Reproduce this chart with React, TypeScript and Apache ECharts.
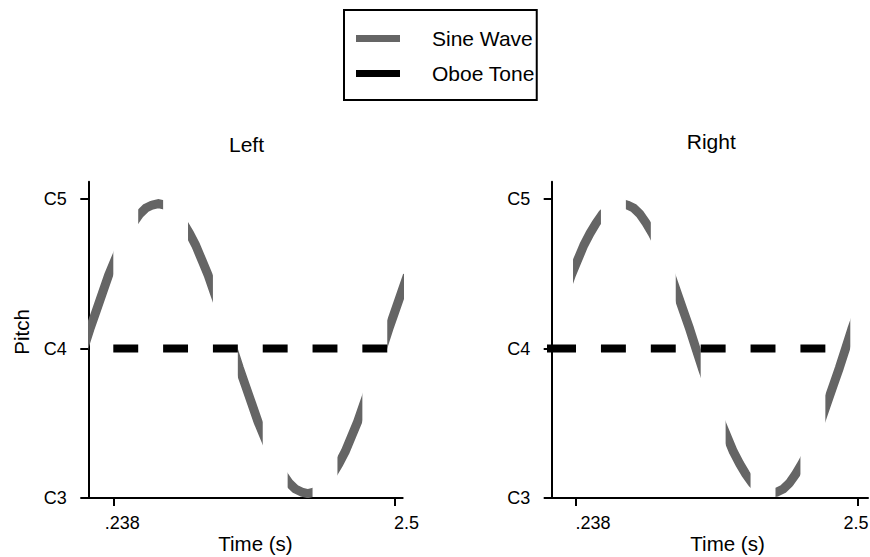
import React, { useEffect, useRef } from 'react';
import * as echarts from 'echarts';

const FONT = '"Liberation Sans", Arial, Helvetica, sans-serif';

// Sine wave (time in s, pitch with C3=3, C4=4, C5=5)
const waveTimes = [
  0, 0.05, 0.1, 0.15, 0.2, 0.25, 0.3, 0.35, 0.4, 0.45, 0.5, 0.55, 0.6,
  0.65, 0.7, 0.75, 0.8, 0.85, 0.9, 0.95, 1.0, 1.05, 1.1, 1.15, 1.2,
  1.25, 1.3, 1.35, 1.4, 1.45, 1.5, 1.55, 1.6, 1.65, 1.7, 1.75, 1.8,
  1.85, 1.9, 1.95, 2.0, 2.05, 2.1, 2.15, 2.2, 2.25, 2.3, 2.35, 2.4,
  2.45, 2.5, 2.55, 2.6,
];
const wavePitch = [
  4.0, 4.13, 4.25, 4.37, 4.49, 4.59, 4.69, 4.77, 4.84, 4.9, 4.94, 4.96, 4.97,
  4.96, 4.94, 4.9, 4.84, 4.77, 4.69, 4.59, 4.49, 4.37, 4.25, 4.13, 4.0,
  3.87, 3.75, 3.63, 3.51, 3.41, 3.31, 3.23, 3.16, 3.1, 3.06, 3.04, 3.03,
  3.04, 3.06, 3.1, 3.16, 3.23, 3.31, 3.41, 3.51, 3.63, 3.75, 3.87, 4.0,
  4.13, 4.25, 4.37, 4.49,
];

// Oboe tone pitch
const oboePitch = 4;

// Time spans (s) in which each tone is heard, per ear
const leftSineSpans = [
  [0.0, 0.238], [0.438, 0.638], [0.838, 1.038], [1.238, 1.438],
  [1.638, 1.838], [2.038, 2.238], [2.438, 2.6],
];
const leftOboeSpans = [
  [0.238, 0.438], [0.638, 0.838], [1.038, 1.238], [1.438, 1.638],
  [1.838, 2.038], [2.238, 2.438],
];
const rightSineSpans = [
  [0.214, 0.438], [0.638, 0.838], [1.038, 1.238], [1.438, 1.638],
  [1.838, 2.038], [2.238, 2.438],
];
const rightOboeSpans = [
  [0.0, 0.238], [0.438, 0.638], [0.838, 1.038], [1.238, 1.438],
  [1.638, 1.838], [2.038, 2.238],
];

const timeTicks = [0.238, 2.5];
const timeTickLabels = ['.238', '2.5'];
const pitchTicks = [3, 4, 5];
const pitchTickLabels = ['C3', 'C4', 'C5'];
const panelTitles = ['Left', 'Right'];
const seriesNames = ['Sine Wave', 'Oboe Tone'];
const xAxisName = 'Time (s)';
const yAxisName = 'Pitch';

const SINE_COLOR = '#656565';
const OBOE_COLOR = '#000000';

function buildOption() {
  const panels = [
    {
      grid: { left: 88.3, top: 181.7, width: 314.4, height: 316.3 },
      xMin: 0.0372, xMax: 2.562,
      sine: leftSineSpans, oboe: leftOboeSpans,
      titleX: 246.5, titleY: 134,
      nameShift: 10, labelShift: [9, 11.5], showYName: true,
    },
    {
      grid: { left: 551.7, top: 181.7, width: 316.3, height: 316.3 },
      xMin: 0.043, xMax: 2.58,
      sine: rightSineSpans, oboe: rightOboeSpans,
      titleX: 711.3, titleY: 131,
      nameShift: 17.7, labelShift: [17, -2], showYName: false,
    },
  ];

  const pad = (s: number) => (s >= 0 ? [0, 0, 0, 2 * s] : [0, -2 * s, 0, 0]);

  const grids: any[] = [];
  const xAxes: any[] = [];
  const yAxes: any[] = [];
  const titles: any[] = [];
  const series: any[] = [];

  panels.forEach((p, pi) => {
    grids.push({ ...p.grid, containLabel: false, outerBoundsMode: 'none' });
    titles.push({
      text: panelTitles[pi],
      left: p.titleX,
      top: p.titleY,
      textAlign: 'center',
      padding: 0,
      textStyle: { fontFamily: FONT, fontSize: 21, fontWeight: 'normal', color: '#000' },
    });
    const rich: any = {};
    timeTicks.forEach((_, i) => {
      rich['t' + i] = { fontFamily: FONT, fontSize: 18, color: '#000', padding: pad(p.labelShift[i]) };
    });
    xAxes.push({
      type: 'value',
      gridIndex: pi,
      min: p.xMin,
      max: p.xMax,
      name: xAxisName,
      nameLocation: 'middle',
      nameGap: 35,
      nameMoveOverlap: false,
      nameTextStyle: {
        fontFamily: FONT, fontSize: 20.5, color: '#000', lineHeight: 20,
        padding: [0, 0, 0, 2 * p.nameShift],
      },
      axisLine: { show: true, onZero: false, lineStyle: { color: '#000', width: 2 } },
      axisTick: {
        show: true, inside: false, length: 8, customValues: timeTicks,
        lineStyle: { color: '#000', width: 2 },
      },
      axisLabel: {
        show: true, margin: 16, customValues: timeTicks,
        fontFamily: FONT, fontSize: 18, color: '#000',
        formatter: (v: number) => {
          const i = timeTicks.findIndex((t) => Math.abs(t - v) < 1e-9);
          return i < 0 ? '' : `{t${i}|${timeTickLabels[i]}}`;
        },
        rich,
      },
      splitLine: { show: false },
    });
    yAxes.push({
      type: 'value',
      gridIndex: pi,
      min: 3,
      max: 5.116,
      name: p.showYName ? yAxisName : '',
      nameLocation: 'middle',
      nameGap: 56,
      nameMoveOverlap: false,
      nameTextStyle: {
        fontFamily: FONT, fontSize: 20.5, color: '#000',
        padding: [0, 0, 0, 16],
      },
      axisLine: { show: true, onZero: false, lineStyle: { color: '#000', width: 2 } },
      axisTick: {
        show: true, inside: false, length: 8, customValues: pitchTicks,
        lineStyle: { color: '#000', width: 2 },
      },
      axisLabel: {
        show: true, margin: 21.5, customValues: pitchTicks,
        fontFamily: FONT, fontSize: 18, color: '#000',
        padding: [0, 0, 8, 0],
        formatter: (v: number) => {
          const i = pitchTicks.findIndex((t) => Math.abs(t - v) < 1e-9);
          return i < 0 ? '' : pitchTickLabels[i];
        },
      },
      splitLine: { show: false },
    });

    series.push({
      type: 'custom',
      name: seriesNames[0],
      xAxisIndex: pi,
      yAxisIndex: pi,
      clip: true,
      silent: true,
      z: 2,
      itemStyle: { color: SINE_COLOR },
      encode: { x: [0, 1], y: 2 },
      data: p.sine.map(([s, e]) => [s, e, oboePitch]),
      renderItem: (params: any, api: any) => {
        const s = api.value(0);
        const e = api.value(1);
        const pts: number[][] = [];
        for (let i = 0; i < waveTimes.length; i++) {
          const t = waveTimes[i];
          if (t >= s - 0.12 && t <= e + 0.12) pts.push(api.coord([t, wavePitch[i]]));
        }
        const x0 = api.coord([s, oboePitch])[0];
        const x1 = api.coord([e, oboePitch])[0];
        const cs = params.coordSys;
        return {
          type: 'polyline',
          shape: { points: pts },
          style: {
            fill: null,
            stroke: SINE_COLOR,
            lineWidth: 9,
            lineCap: 'butt',
            lineJoin: 'round',
          },
          clipPath: {
            type: 'rect',
            shape: { x: x0, y: cs.y - 20, width: x1 - x0, height: cs.height + 40 },
          },
        };
      },
    });

    const oboeData: any[] = [];
    p.oboe.forEach(([s, e]) => {
      oboeData.push([s, oboePitch], [e, oboePitch], [e, '-']);
    });
    series.push({
      type: 'line',
      name: seriesNames[1],
      xAxisIndex: pi,
      yAxisIndex: pi,
      data: oboeData,
      showSymbol: false,
      symbol: 'none',
      connectNulls: false,
      clip: true,
      silent: true,
      z: 3,
      itemStyle: { color: OBOE_COLOR },
      lineStyle: { color: OBOE_COLOR, width: 8, cap: 'butt' },
    });
  });

  return {
    animation: false,
    backgroundColor: '#fff',
    title: titles,
    legend: {
      orient: 'vertical',
      left: 344,
      top: 10,
      padding: [18, 2, 16, 12],
      itemGap: 14,
      itemWidth: 44,
      itemHeight: 7,
      borderColor: '#000',
      borderWidth: 2,
      selectedMode: false,
      itemStyle: { borderWidth: 0 },
      data: [
        { name: seriesNames[0], icon: 'rect', itemStyle: { color: SINE_COLOR, borderWidth: 0 } },
        { name: seriesNames[1], icon: 'rect', itemStyle: { color: OBOE_COLOR, borderWidth: 0 } },
      ],
      textStyle: {
        fontFamily: FONT, fontSize: 21, color: '#000', lineHeight: 20,
        padding: [0, 0, 0, 27],
      },
    },
    grid: grids,
    xAxis: xAxes,
    yAxis: yAxes,
    series,
  };
}

export default function App() {
  const ref = useRef<HTMLDivElement>(null);
  useEffect(() => {
    if (!ref.current) return;
    const chart = echarts.init(ref.current, null, { renderer: 'svg' });
    chart.setOption(buildOption() as any);
    return () => chart.dispose();
  }, []);
  return (
    <div
      ref={ref}
      style={{ position: 'absolute', left: 0, top: 0, width: 870, height: 557, background: '#fff' }}
    />
  );
}
